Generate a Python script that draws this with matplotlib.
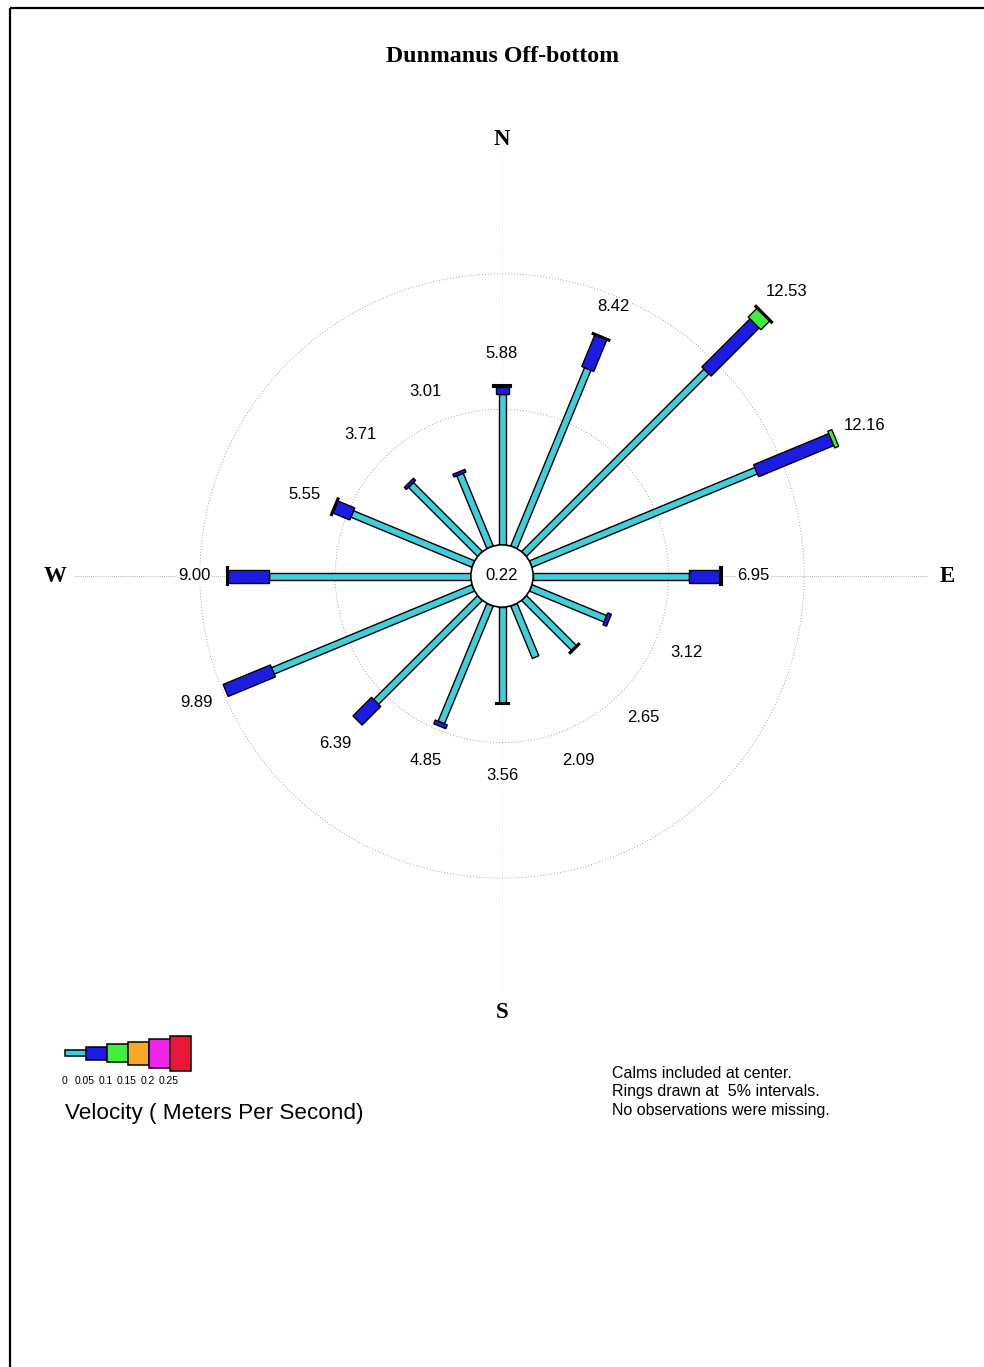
import numpy as np
import matplotlib
matplotlib.use("Agg")
import matplotlib.pyplot as plt
from matplotlib.patches import Polygon, Circle, Rectangle

# ---------------------------------------------------------------- data
directions = ["N", "NNE", "NE", "ENE", "E", "ESE", "SE", "SSE",
              "S", "SSW", "SW", "WSW", "W", "WNW", "NW", "NNW"]
compass_deg = [0.0, 22.5, 45.0, 67.5, 90.0, 112.5, 135.0, 157.5,
               180.0, 202.5, 225.0, 247.5, 270.0, 292.5, 315.0, 337.5]

# percent of observations per direction and velocity class (m/s)
pct_000_005 = [5.57, 7.12, 9.52, 9.00, 5.76, 2.98, 2.61, 2.09,
               3.52, 4.70, 5.42, 8.00, 7.45, 4.83, 3.60, 2.90]
pct_005_010 = [0.27, 1.26, 2.51, 3.00, 1.15, 0.14, 0.04, 0.00,
               0.04, 0.15, 0.97, 1.89, 1.51, 0.68, 0.11, 0.11]
pct_010_015 = [0.04, 0.04, 0.46, 0.16, 0.04, 0.00, 0.00, 0.00,
               0.00, 0.00, 0.00, 0.00, 0.04, 0.04, 0.00, 0.00]
pct_015_020 = [0.00, 0.00, 0.04, 0.00, 0.00, 0.00, 0.00, 0.00,
               0.00, 0.00, 0.00, 0.00, 0.00, 0.00, 0.00, 0.00]
pct_020_025 = [0.0] * 16
pct_025_up = [0.0] * 16

calm_pct = 0.22
ring_pcts = [5, 10]
velocity_ticks = ["0", "0.05", "0.1", "0.15", "0.2", "0.25"]

class_colors = ["#3fcfda", "#1c1ce2", "#3ef03c", "#f7a925", "#f024ea", "#ea1639"]
class_width_px = [7, 13, 18, 23, 29, 35]

title = "Dunmanus Off-bottom"
notes = ["Calms included at center.",
         "Rings drawn at  5% intervals.",
         "No observations were missing."]

# ---------------------------------------------------------------- layout
W_PX, H_PX = 984, 1367
CX, CY = 502, 576          # rose centre in pixels
PX_PER_PCT = 27.1          # radial scale
R0 = 1.15                  # calm circle radius in percent units

sans = "Liberation Sans"
serif = "Liberation Serif"

fig = plt.figure(figsize=(W_PX / 100, H_PX / 100), dpi=100)
fig.patch.set_facecolor("white")

# rose axes, one data unit = one percent
ax = fig.add_axes([0, 0, 1, 1])
ax.set_xlim(-CX / PX_PER_PCT, (W_PX - CX) / PX_PER_PCT)
ax.set_ylim(-(H_PX - CY) / PX_PER_PCT, CY / PX_PER_PCT)
ax.axis("off")

# page axes in pixel units for the frame, title, legend and notes
pax = fig.add_axes([0, 0, 1, 1], facecolor="none")
pax.set_xlim(0, W_PX)
pax.set_ylim(H_PX, 0)
pax.axis("off")

pax.add_patch(Rectangle((10, 8), 1200, 1600, fill=False, ec="black", lw=1.6))
pax.text(CX, 57, title, ha="center", va="center", fontsize=17.2,
         fontweight="bold", family=serif)

# axis cross
ax.plot([-15.8, 15.7], [0, 0], ls=(0, (1, 1.5)), color="#9a9a9a", lw=0.6, zorder=1)
ax.plot([0, 0], [-15.3, 15.5], ls=(0, (1, 1.5)), color="#dcdcdc", lw=0.6, zorder=1)

# rings
for p in ring_pcts:
    ax.add_patch(Circle((0, 0), R0 + p, fill=False, ec="#8a8a8a", lw=0.6,
                        ls=(0, (1, 2.5)), zorder=1))

# cardinal letters
for lab, ang, rr in [("N", 0, 16.1), ("E", 90, 16.45), ("S", 180, 16.1), ("W", 270, 16.5)]:
    a = np.deg2rad(ang)
    ax.text(rr * np.sin(a), rr * np.cos(a), lab, ha="center", va="center",
            fontsize=16.5, fontweight="bold", family=serif, zorder=5)

# bars
classes = [pct_000_005, pct_005_010, pct_010_015, pct_015_020, pct_020_025, pct_025_up]
for i, ang in enumerate(compass_deg):
    a = np.deg2rad(ang)
    u = np.array([np.sin(a), np.cos(a)])
    n = np.array([np.cos(a), -np.sin(a)])
    r = R0
    for c, vals in enumerate(classes):
        v = vals[i]
        if v <= 0:
            continue
        hw = class_width_px[c] / PX_PER_PCT / 2
        pts = [r * u + hw * n, (r + v) * u + hw * n,
               (r + v) * u - hw * n, r * u - hw * n]
        edge_lw = 1.5 if v < 0.1 else 1.0
        ax.add_patch(Polygon(pts, closed=True, fc=class_colors[c], ec="black",
                             lw=edge_lw, joinstyle="miter", zorder=3 + c * 0.01))
        r += v
    total = sum(vals[i] for vals in classes)
    rl = max(200 / PX_PER_PCT, R0 + total + 32 / PX_PER_PCT)
    ax.text(rl * u[0], rl * u[1], f"{total:.2f}", ha="center", va="center",
            fontsize=12, family=sans, zorder=4,
            bbox=dict(fc="white", ec="none", pad=1))

# calm circle
ax.add_patch(Circle((0, 0), R0, fc="white", ec="black", lw=1.2, zorder=4))
ax.text(0, 0, f"{calm_pct:.2f}", ha="center", va="center", fontsize=12,
        family=sans, zorder=5)

# velocity legend
seg_len = 21
x0, yc = 65, 1053
for c, col in enumerate(class_colors):
    h = class_width_px[c] * (0.75 if c == 0 else 1.0)
    pax.add_patch(Rectangle((x0 + c * seg_len, yc - h / 2), seg_len, h,
                            fc=col, ec="black", lw=1.1))
for c, t in enumerate(velocity_ticks):
    pax.text(x0 + c * seg_len - 1, 1081, t, ha="center", va="center",
             fontsize=7.4, family=sans)
pax.text(65, 1113, "Velocity ( Meters Per Second)", ha="left", va="center",
         fontsize=16.2, family=sans)

# notes
for k, line in enumerate(notes):
    pax.text(612, 1073 + 18.5 * k, line, ha="left", va="center",
             fontsize=11.5, family=sans)

fig.savefig("out.png", dpi=100, facecolor="white")
